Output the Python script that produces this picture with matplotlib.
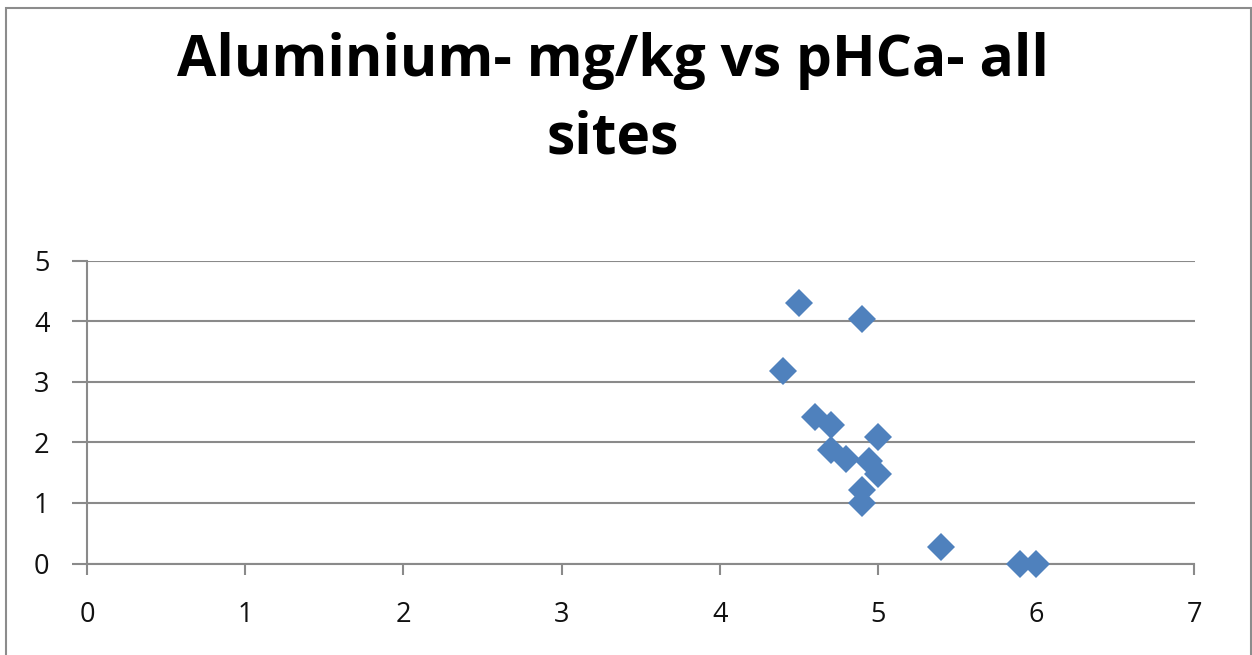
import matplotlib
matplotlib.use("Agg")
import matplotlib.pyplot as plt
from matplotlib.patches import Rectangle

# Data
ph_ca = [4.5, 4.9, 4.4, 4.6, 4.7, 5.0, 4.7, 4.8, 4.94, 5.0, 4.9, 4.9, 5.4, 5.9, 6.0]
aluminium = [4.3, 4.03, 3.17, 2.42, 2.28, 2.08, 1.88, 1.72, 1.69, 1.47, 1.22, 1.0, 0.27, 0.0, 0.0]
x_ticks = [0, 1, 2, 3, 4, 5, 6, 7]
y_ticks = [0, 1, 2, 3, 4, 5]
title = "Aluminium- mg/kg vs pHCa- all\nsites"

W, H = 1252, 655
fig = plt.figure(figsize=(W / 100, H / 100), dpi=100)
fig.patch.set_facecolor("white")

# outer chart frame
fig.patches.append(Rectangle((6 / W, -0.05), (1251 - 6) / W, (H - 8) / H + 0.05,
                             transform=fig.transFigure, fill=False,
                             edgecolor="#8c8c8c", linewidth=1.5, clip_on=False))

ax = fig.add_axes([87 / W, (H - 563.5) / H, (1194.5 - 87) / W, (563.5 - 260.5) / H])
ax.set_xlim(0, 7)
ax.set_ylim(0, 5)
ax.set_xticks(x_ticks)
ax.set_yticks(y_ticks)

gray = "#8a8a8a"
ax.yaxis.grid(True, color=gray, linewidth=1.5)
ax.set_axisbelow(True)
for s in ["top", "right"]:
    ax.spines[s].set_visible(False)
for s in ["left", "bottom"]:
    ax.spines[s].set_color(gray)
    ax.spines[s].set_linewidth(1.5)

ax.tick_params(axis="y", direction="out", length=11, width=1.5, color=gray,
               pad=16, labelsize=19.5)
ax.tick_params(axis="x", direction="out", length=8, width=1.5, color=gray,
               pad=19, labelsize=19.5)
for lab in ax.get_xticklabels() + ax.get_yticklabels():
    lab.set_fontfamily("Open Sans")
    lab.set_color("#111111")

ax.plot(ph_ca, aluminium, linestyle="none", marker="D", markersize=14.5,
        color="#4F81BD", markeredgewidth=0, clip_on=False, zorder=3)

fig.text(613 / W, (H - 100) / H, title, ha="center", va="center",
         fontsize=41, fontweight="bold", family="Open Sans",
         linespacing=1.45, color="black")

fig.savefig("out.png", dpi=100)
